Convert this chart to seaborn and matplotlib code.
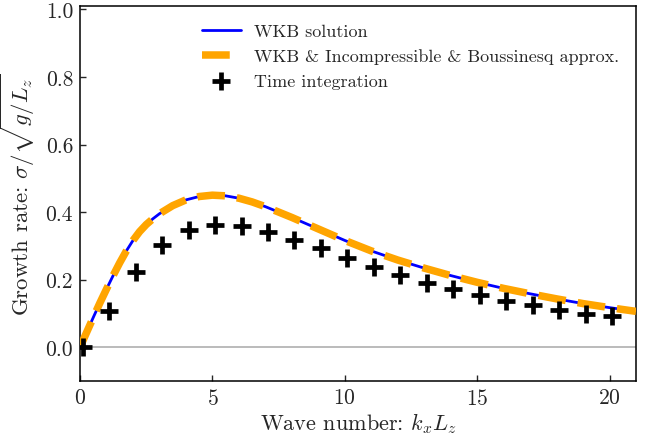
import numpy as np
import pandas as pd
import matplotlib
matplotlib.use("Agg")
import matplotlib.pyplot as plt
import seaborn as sns

# Growth-rate curves (sigma / sqrt(g/Lz)) versus wave number kx*Lz
k_curve = [0.0, 0.25, 0.5, 0.75, 1.0, 1.25, 1.5, 1.75, 2.0, 2.25, 2.5, 2.75,
           3.0, 3.5, 4.0, 4.5, 5.0, 5.5, 6.0, 6.5, 7.0, 7.5, 8.0, 9.0, 10.0,
           11.0, 12.0, 13.0, 14.0, 15.0, 16.0, 17.0, 18.0, 19.0, 20.0, 21.0]
wkb_growth = [0.0, 0.044, 0.088, 0.131, 0.172, 0.212, 0.250, 0.285, 0.316,
              0.342, 0.363, 0.380, 0.395, 0.419, 0.436, 0.446, 0.450, 0.448,
              0.441, 0.430, 0.416, 0.400, 0.384, 0.350, 0.316, 0.285, 0.258,
              0.234, 0.212, 0.192, 0.174, 0.158, 0.143, 0.129, 0.117, 0.106]
approx_growth = [0.0, 0.044, 0.088, 0.131, 0.172, 0.212, 0.250, 0.285, 0.316,
                 0.342, 0.363, 0.380, 0.395, 0.419, 0.436, 0.446, 0.450, 0.448,
                 0.441, 0.430, 0.416, 0.400, 0.384, 0.350, 0.316, 0.285, 0.258,
                 0.234, 0.212, 0.192, 0.174, 0.158, 0.143, 0.129, 0.117, 0.106]

# Growth rates measured from the time integration runs
k_runs = [0.1, 1.1, 2.1, 3.1, 4.1, 5.1, 6.1, 7.1, 8.1, 9.1, 10.1, 11.1, 12.1,
          13.1, 14.1, 15.1, 16.1, 17.1, 18.1, 19.1, 20.1]
run_growth = [0.0, 0.106, 0.222, 0.302, 0.347, 0.362, 0.359, 0.341, 0.317,
              0.293, 0.264, 0.236, 0.214, 0.190, 0.171, 0.153, 0.136, 0.124,
              0.111, 0.099, 0.093]

sns.set_theme(style="ticks")
plt.rcParams.update({
    "font.family": "serif",
    "font.serif": ["cmr10"],
    "mathtext.fontset": "cm",
    "axes.formatter.use_mathtext": True,
    "axes.unicode_minus": False,
})

fig = plt.figure(figsize=(6.55, 4.39), dpi=100)
ax = fig.add_axes([0.1222, 0.130, 0.8488, 0.854])

curves = pd.DataFrame({"k": k_curve, "wkb": wkb_growth, "approx": approx_growth})
runs = pd.DataFrame({"k": k_runs, "sigma": run_growth})

ax.axhline(0.0, color="#b5b5b5", lw=1.3, zorder=1)
sns.lineplot(data=curves, x="k", y="wkb", ax=ax, color="blue", lw=2.0,
             label="WKB solution", zorder=2)
sns.lineplot(data=curves, x="k", y="approx", ax=ax, color="orange", lw=5.4,
             linestyle="--", label="WKB & Incompressible & Boussinesq approx.",
             zorder=3)
sns.scatterplot(data=runs, x="k", y="sigma", ax=ax, marker="+", s=150,
                color="black", linewidth=3.4, label="Time integration",
                zorder=4, clip_on=True)

ax.set_xlim(0, 21)
ax.set_ylim(-0.1, 1.01)
ax.set_xticks([0, 5, 10, 15, 20])
ax.set_yticks([0.0, 0.2, 0.4, 0.6, 0.8, 1.0])
ax.set_yticklabels(["0.0", "0.2", "0.4", "0.6", "0.8", "1.0"])
ax.tick_params(direction="in", length=4, width=1, labelsize=15.5,
               top=False, right=False, pad=5)
for sp in ax.spines.values():
    sp.set_linewidth(1.1)
    sp.set_color("black")

ax.set_xlabel(r"Wave number: $k_xL_z$", fontsize=16, labelpad=2)
ax.set_ylabel(r"Growth rate: $\sigma/\sqrt{g/L_z}$", fontsize=16.5, labelpad=6)

leg = ax.legend(loc="upper left", bbox_to_anchor=(0.19, 0.997), frameon=False,
                fontsize=13, handlelength=2.15, labelspacing=0.5,
                handletextpad=0.75)

fig.savefig("out.png", dpi=100)
